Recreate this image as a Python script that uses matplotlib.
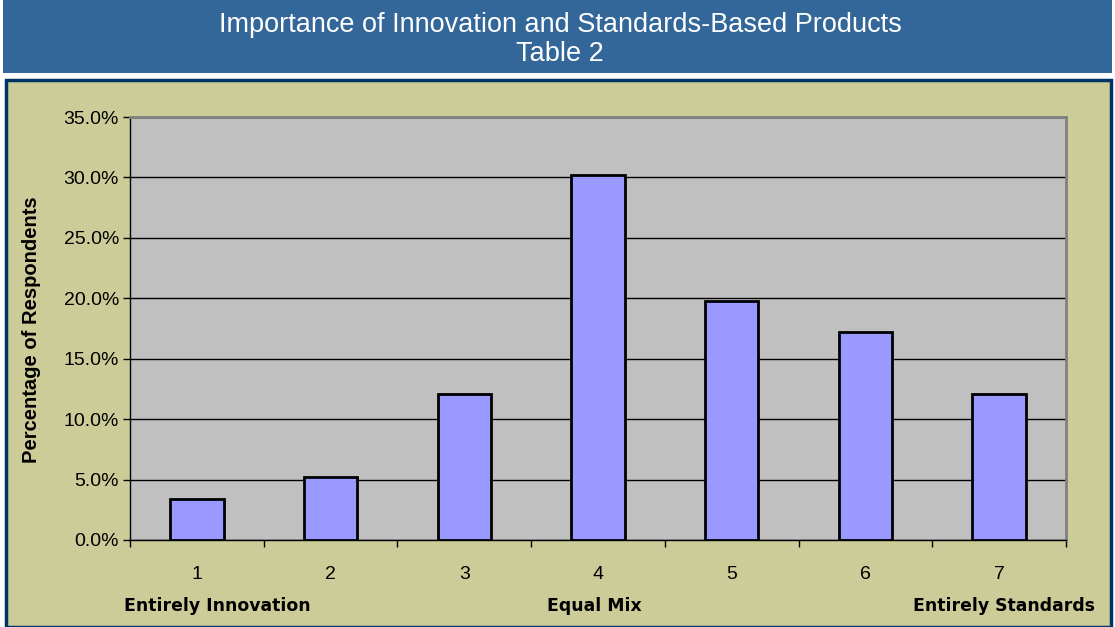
import matplotlib
matplotlib.use("Agg")
import matplotlib.pyplot as plt
from matplotlib.patches import Rectangle
from matplotlib.ticker import FuncFormatter, FixedLocator

categories = ["1", "2", "3", "4", "5", "6", "7"]
percent_values = [3.4, 5.2, 12.1, 30.2, 19.8, 17.2, 12.1]
y_ticks = [0, 5, 10, 15, 20, 25, 30, 35]
scale_labels = ["Entirely Innovation", "Equal Mix", "Entirely Standards"]
title_lines = ["Importance of Innovation and Standards-Based Products", "Table 2"]

W, H = 1115, 627
fig = plt.figure(figsize=(W / 100, H / 100), dpi=100)
fig.patch.set_facecolor("white")


def fx(px):
    return px / W


def fy(py):
    return 1 - py / H


# header band
fig.patches.append(Rectangle((fx(3), fy(73)), fx(1112 - 3), 73 / H,
                             transform=fig.transFigure, facecolor="#336699",
                             edgecolor="none", zorder=-2))
fig.text(fx(560), fy(25), title_lines[0], ha="center", va="center",
         color="white", fontsize=19.5, family="Liberation Sans")
fig.text(fx(560), fy(54), title_lines[1], ha="center", va="center",
         color="white", fontsize=19.5, family="Liberation Sans")

# khaki panel with navy border
fig.patches.append(Rectangle((fx(6), 0), fx(1111 - 6), (H - 80) / H,
                             transform=fig.transFigure, facecolor="#CCCC99",
                             edgecolor="#003366", linewidth=2.5, zorder=-2))

ax = fig.add_axes([fx(130), fy(540), fx(1066 - 130), (540 - 117) / H])
ax.set_zorder(2)
ax.set_facecolor("#C0C0C0")

x = list(range(len(categories)))
ax.bar(x, percent_values, width=0.4, color="#9999FF", edgecolor="black",
       linewidth=2, zorder=3)

ax.set_xlim(-0.5, len(categories) - 0.5)
ax.set_ylim(0, 35)
ax.yaxis.set_major_locator(FixedLocator(y_ticks))
ax.yaxis.set_major_formatter(FuncFormatter(lambda v, _: f"{v:.1f}%"))
ax.grid(axis="y", color="black", linewidth=1, zorder=1)
ax.set_axisbelow(True)

ax.set_xticks([i - 0.5 for i in range(len(categories) + 1)])
ax.set_xticklabels([])
ax.set_xticks(x, minor=True)
ax.set_xticklabels(categories, minor=True)
ax.tick_params(axis="x", which="major", length=5, direction="out", width=1)
ax.tick_params(axis="x", which="minor", length=0, pad=19, labelsize=14)
ax.tick_params(axis="y", length=5, direction="out", width=1, labelsize=14, pad=3)
for lab in ax.get_xticklabels(minor=True) + ax.get_yticklabels():
    lab.set_family("Liberation Sans")

for side in ("top", "right"):
    ax.spines[side].set_color("#808080")
    ax.spines[side].set_linewidth(2)
for side in ("left", "bottom"):
    ax.spines[side].set_color("black")
    ax.spines[side].set_linewidth(1)

fig.text(fx(32), fy(330), "Percentage of Respondents", rotation=90,
         ha="center", va="center", fontsize=14.5, fontweight="bold",
         family="Liberation Sans")

fig.text(fx(124), fy(606), scale_labels[0], ha="left", va="center",
         fontsize=12.4, fontweight="bold", family="DejaVu Sans")
fig.text(fx(594), fy(606), scale_labels[1], ha="center", va="center",
         fontsize=12.4, fontweight="bold", family="DejaVu Sans")
fig.text(fx(1095), fy(606), scale_labels[2], ha="right", va="center",
         fontsize=12.4, fontweight="bold", family="DejaVu Sans")

fig.savefig("out.png", dpi=100)
